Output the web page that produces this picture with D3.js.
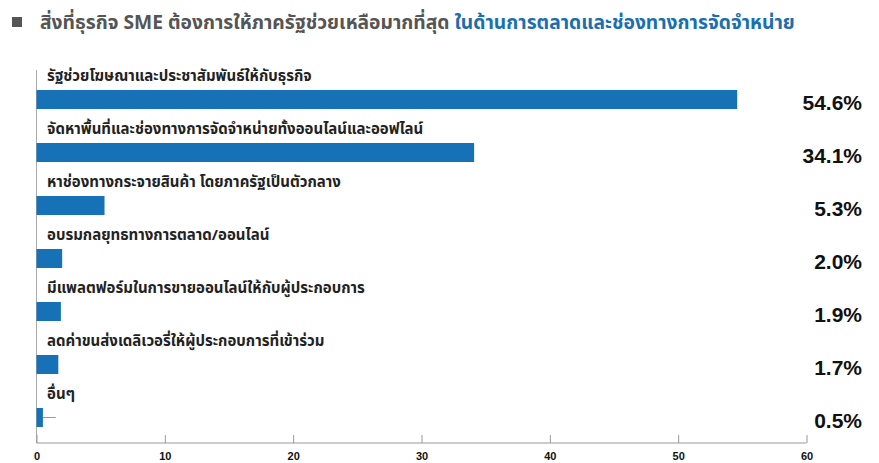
<!DOCTYPE html>
<html>
<head>
<meta charset="utf-8">
<script src="https://cdn.jsdelivr.net/npm/d3@7"></script>
<style>
  html, body { margin: 0; padding: 0; background: #fff; }
  svg { display: block; }
  .thai { font-family: "Noto Sans Thai", "Noto Sans Thai Looped", "Noto Sans", "Liberation Sans", sans-serif; }
  .latin { font-family: "Liberation Sans", Arial, Helvetica, sans-serif; }
</style>
</head>
<body>
<svg id="chart" width="879" height="463"></svg>
<script>
const titleGrey = "สิ่งที่ธุรกิจ SME ต้องการให้ภาครัฐช่วยเหลือมากที่สุด";
const titleBlue = " ในด้านการตลาดและช่องทางการจัดจำหน่าย";
const categories = [
  "รัฐช่วยโฆษณาและประชาสัมพันธ์ให้กับธุรกิจ",
  "จัดหาพื้นที่และช่องทางการจัดจำหน่ายทั้งออนไลน์และออฟไลน์",
  "หาช่องทางกระจายสินค้า โดยภาครัฐเป็นตัวกลาง",
  "อบรมกลยุทธทางการตลาด/ออนไลน์",
  "มีแพลตฟอร์มในการขายออนไลน์ให้กับผู้ประกอบการ",
  "ลดค่าขนส่งเดลิเวอรี่ให้ผู้ประกอบการที่เข้าร่วม",
  "อื่นๆ"
];
const values = [54.6, 34.1, 5.3, 2.0, 1.9, 1.7, 0.5];
const valueLabels = ["54.6%", "34.1%", "5.3%", "2.0%", "1.9%", "1.7%", "0.5%"];
const whiskerEnds = [null, null, null, null, null, null, 1.5];
const xTicks = [0, 10, 20, 30, 40, 50, 60];

const svg = d3.select("#chart");
const blue = "#1671b6";

// Title
svg.append("rect").attr("x", 12).attr("y", 17).attr("width", 10).attr("height", 10).attr("fill", "#555");
const title = svg.append("text").attr("class", "thai").attr("x", 40).attr("y", 29)
  .attr("font-size", 17).attr("font-weight", "bold");
title.append("tspan").attr("fill", "#555").text(titleGrey);
title.append("tspan").attr("fill", "#1a6fb0").text(titleBlue);
// fit title to reference width
const tl = title.node().getComputedTextLength();
const fs = Math.min(20, 17 * 755 / tl);
title.attr("font-size", fs);

const x = d3.scaleLinear().domain([0, 60]).range([36.5, 806.5]);
const y = d3.scaleBand().domain(categories).range([64, 435]).paddingInner(0).paddingOuter(0);

// left vertical line
svg.append("line").attr("x1", 36.5).attr("x2", 36.5).attr("y1", 70).attr("y2", 443)
  .attr("stroke", "#aaa").attr("stroke-width", 1);

// bottom axis
const axis = d3.axisBottom(x).tickValues(xTicks).tickSize(-8).tickPadding(9).tickFormat(d3.format("d"));
const ax = svg.append("g").attr("transform", "translate(0,443)").call(axis);
ax.select(".domain").attr("stroke", "#999").attr("d", `M${x(0)},0H${x(60)}`);
ax.selectAll(".tick line").attr("stroke", "#999");
ax.selectAll(".tick text").attr("class", "latin").attr("fill", "#111").attr("font-size", 11).attr("font-weight", "bold");

// bars
svg.selectAll("rect.bar").data(values).enter().append("rect").attr("class", "bar")
  .attr("x", x(0)).attr("y", (d, i) => y(categories[i]) + 26)
  .attr("width", d => x(d) - x(0)).attr("height", 19).attr("fill", blue);

// whiskers
svg.selectAll("line.wh").data(values.map((v, i) => ({v, e: whiskerEnds[i], c: categories[i]})).filter(d => d.e != null))
  .enter().append("line").attr("class", "wh")
  .attr("x1", d => x(d.v)).attr("x2", d => x(d.e))
  .attr("y1", d => y(d.c) + 35.5).attr("y2", d => y(d.c) + 35.5)
  .attr("stroke", "#999").attr("stroke-width", 1);

// category labels
svg.selectAll("text.cat").data(categories).enter().append("text").attr("class", "cat thai")
  .attr("x", 47).attr("y", d => y(d) + 17)
  .attr("font-size", 15).attr("font-weight", "bold").attr("fill", "#222").text(d => d);

// value labels
svg.selectAll("text.val").data(valueLabels).enter().append("text").attr("class", "val latin")
  .attr("x", 862).attr("y", (d, i) => y(categories[i]) + 46)
  .attr("text-anchor", "end").attr("font-size", 21).attr("font-weight", "bold")
  .attr("fill", "#111").text(d => d);
</script>
</body>
</html>
